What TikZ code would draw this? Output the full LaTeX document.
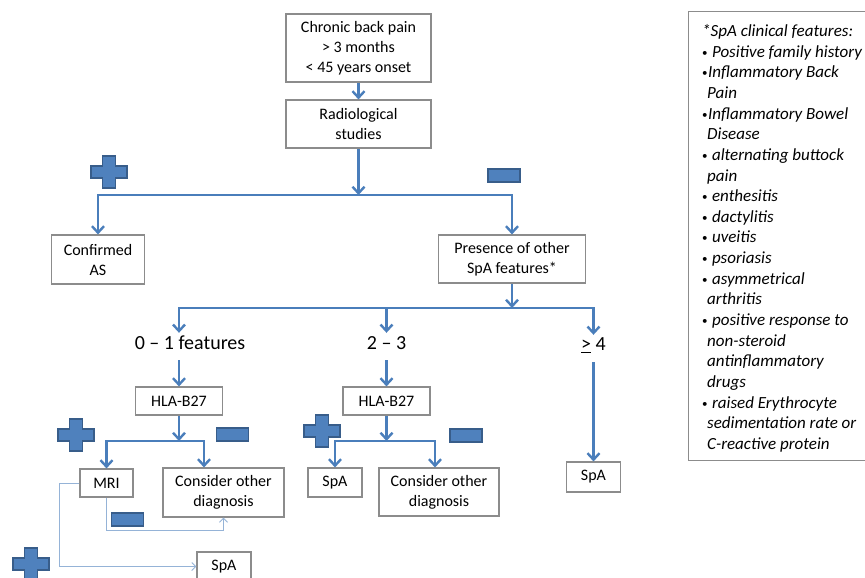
\documentclass[tikz,border=0pt]{standalone}
\usepackage{fontspec}
\setmainfont{Carlito}
\usetikzlibrary{arrows.meta}
\definecolor{arrblue}{HTML}{4A7EBB}
\definecolor{thinblue}{HTML}{95B3D7}
\definecolor{boxgray}{HTML}{8C8C8C}
\definecolor{signfill}{HTML}{4F81BD}
\definecolor{signdraw}{HTML}{385D8A}
\newcommand\featbl{\makebox[6pt][l]{\raisebox{1pt}{\fontsize{11}{11}\selectfont\upshape\textbullet}}}
\tikzset{
  box/.style={draw=boxgray, line width=1.1pt, fill=white, align=center, inner sep=0pt, font=\fontsize{16}{20}\selectfont},
  arr/.style={draw=arrblue, line width=2.4pt, -{Straight Barb[length=6.5pt,width=12pt]}},
  thinarr/.style={draw=thinblue, line width=1pt, -{Straight Barb[length=4pt,width=8pt]}},
  lab/.style={font=\fontsize{20}{24}\selectfont, inner sep=0pt, minimum height=20pt},
  pluspic/.pic={\filldraw[fill=signfill, draw=signdraw, line width=1.2pt] (-6.5,-16)--(6.5,-16)--(6.5,-6)--(18,-6)--(18,6)--(6.5,6)--(6.5,16)--(-6.5,16)--(-6.5,6)--(-18,6)--(-18,-6)--(-6.5,-6)--cycle;},
  minuspic/.pic={\filldraw[fill=signfill, draw=signdraw, line width=1.2pt] (-16,-6.5) rectangle (16,6.5);}
}
\begin{document}
\begin{tikzpicture}[x=1pt,y=-1pt]
\path[use as bounding box] (0,0) rectangle (865,578);
\clip (0,0) rectangle (865,578);
\fill[white] (0,0) rectangle (865,578);

% boxes
\node[box, minimum width=145pt, minimum height=68pt] (chronic) at (358.5,48) {Chronic back pain\\> 3 months\\< 45 years onset};
\node[box, minimum width=145pt, minimum height=48pt] (radio) at (358.5,124) {Radiological\\studies};
\node[box, minimum width=93pt, minimum height=49pt] (conf) at (98,259.5) {Confirmed\\AS};
\node[box, minimum width=147pt, minimum height=48pt] (pres) at (512,259) {Presence of other\\SpA features*};

\node[lab] (lab01) at (190,343) {0 -- 1 features};
\node[lab] (lab23) at (386.5,343) {2 -- 3};
\node[lab] (lab4) at (593.5,345) {\underline{>} 4};

\node[box, minimum width=87pt, minimum height=28pt] (hla1) at (179,401) {HLA-B27};
\node[box, minimum width=87pt, minimum height=28pt] (hla2) at (386.5,401) {HLA-B27};
\node[box, minimum width=53pt, minimum height=28pt] (mri) at (106.5,483) {MRI};
\node[box, minimum width=121pt, minimum height=49pt] (cons1) at (223.5,492.5) {Consider other\\diagnosis};
\node[box, minimum width=54pt, minimum height=29pt] (spa2) at (335,482.5) {SpA};
\node[box, minimum width=120pt, minimum height=48pt] (cons2) at (439,492) {Consider other\\diagnosis};
\node[box, minimum width=54pt, minimum height=30pt] (spa4) at (593.5,477) {SpA};
\node[box, minimum width=54pt, minimum height=29pt] (spa1) at (224,566.5) {SpA};

% feature box
\node[draw=boxgray, line width=1.1pt, minimum width=200pt, minimum height=449pt, anchor=north west, inner sep=0pt] (featbox) at (688,11) {};
\node[anchor=base west, inner sep=0pt, font=\fontsize{17}{20.65}\selectfont\itshape] (feattext) at (702,36.5) {\begin{minipage}[t]{180pt}\raggedright
*SpA clinical features:\\
\featbl\ Positive family history\\
\featbl Inflammatory Back\\
\hspace*{5pt}Pain\\
\featbl Inflammatory Bowel\\
\hspace*{5pt}Disease\\
\featbl\ alternating buttock\\
\hspace*{5pt}pain\\
\featbl\ enthesitis\\
\featbl\ dactylitis\\
\featbl\ uveitis\\
\featbl\ psoriasis\\
\featbl\ asymmetrical\\
\hspace*{5pt}arthritis\\
\featbl\ positive response to\\
\hspace*{5pt}non-steroid\\
\hspace*{5pt}antinflammatory\\
\hspace*{5pt}drugs\\
\featbl\ raised Erythrocyte\\
\hspace*{5pt}sedimentation rate or\\
\hspace*{5pt}C-reactive protein
\end{minipage}};

% junctions
\coordinate (j1) at (358.5,195);
\coordinate (j2) at (512,308);
\coordinate (j3) at (179,441);
\coordinate (j4) at (386.5,441);

% connectors
\draw[arr] (chronic) -- (radio);
\draw[arr] (radio) -- (j1);
\draw[arr] (j1) -| (conf.north);
\draw[arr] (j1) -| (pres.north);
\draw[arr] (pres) -- (j2);
\draw[arr] (j2) -| ([xshift=-11pt]lab01.north);
\draw[arr] (j2) -| (lab23.north);
\draw[arr] (j2) -| (lab4.north);
\draw[arr, shorten <=7pt] ([xshift=-11pt]lab01.south) -- (hla1.north);
\draw[arr, shorten <=7pt] (lab23.south) -- (hla2.north);
\draw[arr, shorten <=7pt] (lab4.south) -- (spa4.north);
\draw[arr] (hla1) -- (j3);
\draw[arr] (j3) -| (mri.north);
\draw[arr] (j3) -| ([xshift=-19.5pt]cons1.north);
\draw[arr] (hla2) -- (j4);
\draw[arr] (j4) -| (spa2.north);
\draw[arr] (j4) -| ([xshift=-4pt]cons2.north);
\draw[thinarr] (mri.west) -- ++(-20,0) |- (spa1.west);
\draw[thinarr] (mri.south) -- ++(0,33) -| (cons1.south);

% signs
\pic at (109,172) {pluspic};
\pic at (504,175.5) {minuspic};
\pic at (76,435) {pluspic};
\pic at (232.5,434.5) {minuspic};
\pic at (322,431) {pluspic};
\pic at (466,435.5) {minuspic};
\pic at (127.5,519.5) {minuspic};
\pic at (31,564) {pluspic};
\end{tikzpicture}
\end{document}
